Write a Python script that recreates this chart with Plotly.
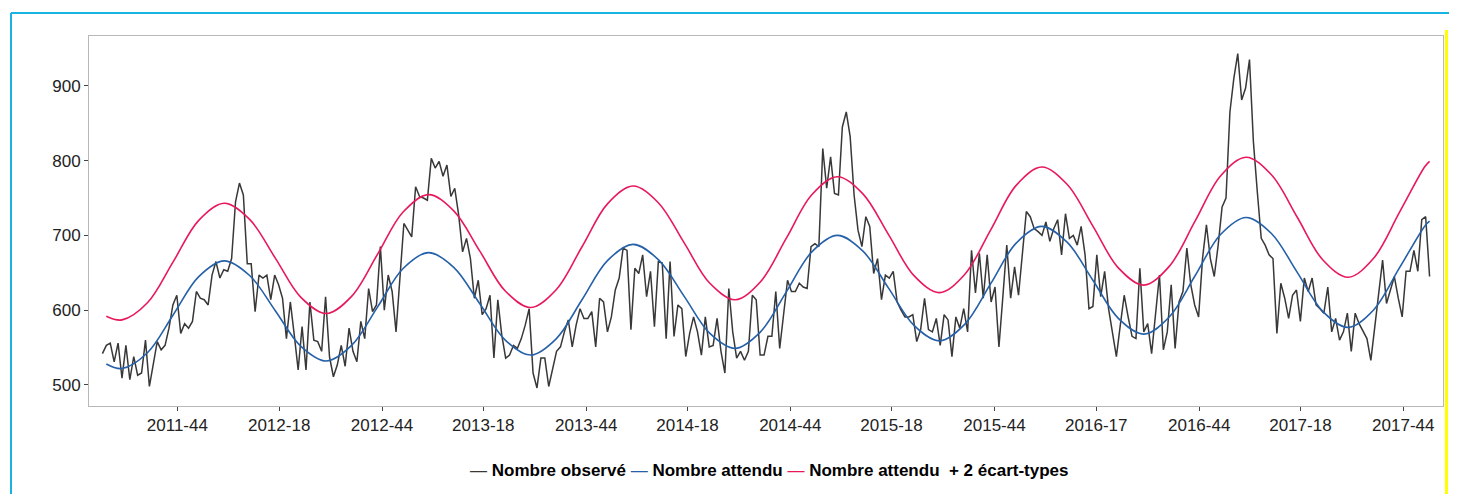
import pandas as pd
import plotly.graph_objects as go

# ---------------- data ----------------
start_date = "2011-06-20"  # week 2011-25 (Monday)

observed = [
    542, 553, 556, 531, 556, 509, 553, 507, 538, 513, 516, 560, 498, 527, 558, 547, 553, 576, 607, 620,
    569, 582, 576, 585, 625, 616, 614, 607, 647, 665, 643, 654, 652, 669, 745, 770, 754, 662, 662, 598,
    647, 643, 647, 614, 647, 634, 616, 562, 611, 567, 520, 578, 520, 611, 560, 558, 545, 618, 538, 511,
    527, 553, 525, 576, 545, 531, 585, 562, 629, 598, 607, 685, 600, 647, 625, 571, 640, 716, 707, 698,
    765, 752, 750, 747, 803, 790, 799, 779, 794, 752, 763, 727, 678, 696, 669, 616, 640, 594, 602, 620,
    536, 614, 567, 536, 540, 553, 549, 562, 580, 602, 516, 496, 536, 536, 498, 520, 545, 551, 571, 587,
    551, 580, 602, 589, 589, 598, 551, 616, 611, 571, 591, 627, 643, 683, 680, 574, 656, 649, 674, 618,
    652, 578, 665, 663, 562, 665, 565, 607, 602, 538, 569, 591, 571, 540, 591, 551, 553, 589, 545, 516,
    629, 571, 536, 545, 533, 545, 620, 614, 540, 540, 565, 565, 625, 549, 598, 640, 625, 625, 636, 631,
    629, 685, 689, 685, 816, 763, 805, 756, 754, 845, 865, 832, 754, 707, 685, 725, 712, 649, 669, 614,
    647, 643, 652, 611, 600, 591, 591, 594, 558, 574, 616, 574, 571, 589, 553, 594, 587, 538, 591, 576,
    602, 571, 680, 623, 676, 616, 674, 611, 631, 551, 618, 687, 616, 658, 620, 676, 732, 725, 709, 705,
    700, 718, 692, 709, 721, 674, 729, 696, 700, 687, 712, 674, 602, 605, 674, 618, 652, 602, 571, 538,
    580, 620, 591, 565, 562, 656, 571, 582, 542, 598, 647, 547, 571, 634, 549, 611, 625, 683, 634, 607,
    591, 669, 714, 669, 645, 687, 738, 750, 865, 910, 943, 881, 897, 935, 825, 758, 696, 687, 674, 669,
    569, 636, 616, 589, 620, 627, 585, 643, 625, 643, 607, 602, 596, 631, 571, 589, 560, 571, 596, 545,
    596, 582, 571, 562, 533, 576, 616, 667, 609, 627, 645, 616, 591, 652, 652, 680, 652, 721, 725, 645,
]

# week offsets (from start_date) at which the smooth curves were read
curve_weeks = [
    1, 5.0, 11.5, 18.1, 24.6, 31.1, 37.6, 44.2, 50.7, 57.2, 63.7, 70.3, 76.8, 83.3, 89.8, 96.4,
    102.9, 109.4, 115.9, 122.5, 129.0, 135.5, 142.0, 148.6, 155.1, 161.6, 168.1, 174.7, 181.2,
    187.7, 194.2, 200.8, 207.3, 213.8, 220.3, 226.9, 233.4, 239.9, 246.4, 253.0, 259.5, 266.0,
    272.5, 279.1, 285.6, 292.1, 298.6, 305.2, 311.7, 318.2, 324.7, 331.3, 337.8, 339,
]
expected = [
    528, 522, 543.1, 594, 644.9, 666, 646.4, 599, 551.6, 532, 553.2, 604.5, 655.8, 677, 657, 608.5,
    560, 540, 561.7, 614, 666.3, 688, 667.6, 618.5, 569.4, 549, 571.1, 624.5, 677.9, 700, 679.3,
    629.5, 579.7, 559, 581.4, 635.5, 689.6, 712, 690.9, 640, 589.1, 568, 590.9, 646, 701.1, 724,
    702.5, 650.5, 598.5, 577, 600.3, 656.5, 712.7, 719,
]
upper = [
    592, 587, 609.9, 665, 720.1, 743, 721.4, 669.3, 617.1, 595.5, 618.8, 675, 731.2, 754.5, 732.4,
    679, 625.6, 603.5, 627.3, 684.8, 742.2, 766, 743.7, 690, 636.3, 614, 638.1, 696.3, 754.4, 778.5,
    755.8, 701, 646.2, 623.5, 648.1, 707.5, 766.9, 791.5, 768.4, 712.5, 656.6, 633.5, 658.6, 719,
    779.4, 804.5, 781, 724.3, 667.5, 644, 669.4, 730.8, 792.1, 799,
]

tick_dates = ["2011-11-01", "2012-05-01", "2012-11-01", "2013-05-01", "2013-11-01", "2014-05-01",
              "2014-11-01", "2015-05-01", "2015-11-01", "2016-05-01", "2016-11-01", "2017-05-01",
              "2017-11-01"]
tick_labels = ["2011-44", "2012-18", "2012-44", "2013-18", "2013-44", "2014-18", "2014-44",
               "2015-18", "2015-44", "2016-17", "2016-44", "2017-18", "2017-44"]
y_ticks = [500, 600, 700, 800, 900]

series_names = ["Nombre observé", "Nombre attendu", "Nombre attendu\u00a0 + 2 écart-types"]
series_colors = ["#383838", "#2560a8", "#e8195a"]

# ---------------- figure ----------------
start = pd.Timestamp(start_date)
obs_dates = pd.date_range(start, periods=len(observed), freq="7D")
curve_dates = [start + pd.Timedelta(days=7 * w) for w in curve_weeks]

fig = go.Figure()
fig.add_trace(go.Scatter(x=obs_dates, y=observed, mode="lines", name=series_names[0],
                         line=dict(color=series_colors[0], width=1.5)))
fig.add_trace(go.Scatter(x=curve_dates, y=expected, mode="lines", name=series_names[1],
                         line=dict(color=series_colors[1], width=1.6, shape="spline", smoothing=1)))
fig.add_trace(go.Scatter(x=curve_dates, y=upper, mode="lines", name=series_names[2],
                         line=dict(color=series_colors[2], width=1.6, shape="spline", smoothing=1)))

# page body has an 8px margin: work in screen pixels, shifted by that offset,
# and keep the page inside the window
OFF = 8
W, H = 1457 - OFF, 502 - 2 * OFF
ml, mr, mt = 89 - OFF, 14, 36 - OFF
mb = H - (406 - OFF)
pw, ph = W - ml - mr, H - mt - mb

def px_x(px):
    return (px - OFF - ml) / pw

def px_y(py):
    return (H - mb - (py - OFF)) / ph

axis_font = dict(family="Liberation Sans, Arial, sans-serif", size=17, color="#222222")

fig.update_layout(
    width=W, height=H,
    margin=dict(l=ml, r=mr, t=mt, b=mb),
    paper_bgcolor="white", plot_bgcolor="white",
    showlegend=False,
    font=axis_font,
    xaxis=dict(
        type="date", range=["2011-05-27", "2018-01-11"],
        tickvals=tick_dates, ticktext=tick_labels,
        showgrid=False, zeroline=False,
        showline=True, linecolor="#b8b8b8", linewidth=1, mirror=True,
        ticks="outside", ticklen=4, tickcolor="#444444", tickwidth=1,
        tickfont=axis_font,
    ),
    yaxis=dict(
        range=[471.9, 966.6], tickvals=y_ticks,
        showgrid=False, zeroline=False,
        showline=True, linecolor="#b8b8b8", linewidth=1, mirror=True,
        ticks="outside", ticklen=4, tickcolor="#444444", tickwidth=1,
        tickfont=axis_font,
    ),
)

# legend built as rich text annotation (short line keys, bold labels)
legend_text = "".join(
    f"<span style='color:{c}'>\u2014</span> <b>{n}</b> " for n, c in zip(series_names, series_colors)
)
fig.add_annotation(text=legend_text.strip(), xref="paper", yref="paper",
                   x=px_x(769), y=px_y(470), xanchor="center", yanchor="middle",
                   showarrow=False, font=dict(family="Liberation Sans, Arial, sans-serif",
                                              size=17, color="#000000"))

# page frame decorations (cyan border, yellow right rule)
fig.add_shape(type="line", xref="paper", yref="paper", x0=px_x(11), x1=px_x(1460),
              y0=px_y(13), y1=px_y(13), line=dict(color="#18b4e0", width=2))
fig.add_shape(type="line", xref="paper", yref="paper", x0=px_x(11), x1=px_x(11),
              y0=px_y(13), y1=px_y(505), line=dict(color="#18b4e0", width=2))
fig.add_shape(type="line", xref="paper", yref="paper", x0=px_x(1446.5), x1=px_x(1446.5),
              y0=px_y(30), y1=px_y(505), line=dict(color="#ffff00", width=3))

fig.write_html("out.html")
